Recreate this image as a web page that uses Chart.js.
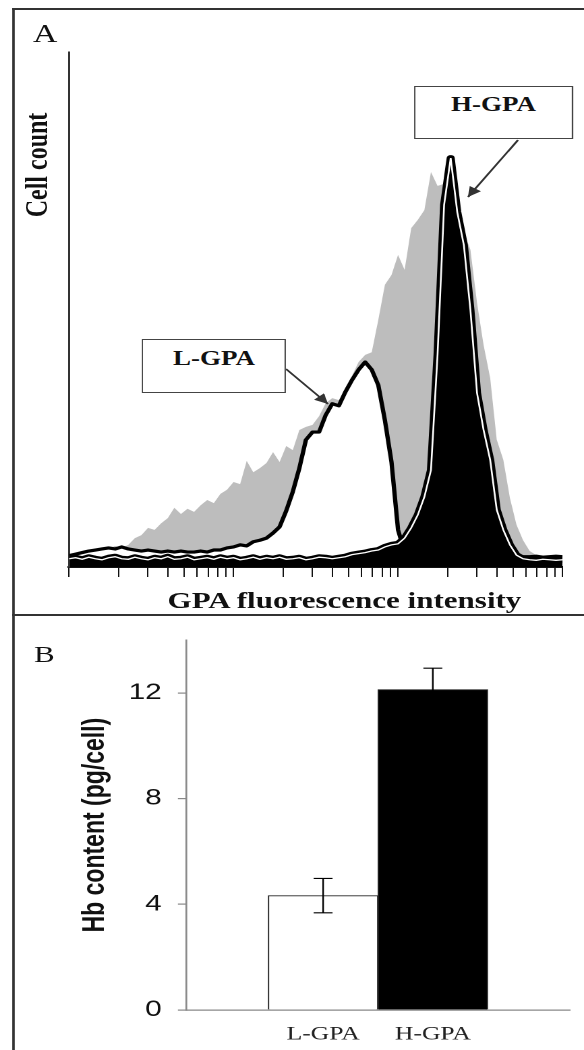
<!DOCTYPE html>
<html>
<head>
<meta charset="utf-8">
<script src="https://cdn.jsdelivr.net/npm/chart.js@4.4.1/dist/chart.umd.min.js"></script>
<style>
  html, body { margin: 0; padding: 0; background: #fff; }
  body { width: 584px; height: 1050px; overflow: hidden; position: relative; }
  /* the original figure is stretched sideways, so draw narrow and scale in x */
  #stage { position: absolute; left: 0; top: 0; width: 433px; height: 1050px;
           transform: scaleX(1.3487); transform-origin: 0 0; }
  .abs { position: absolute; white-space: nowrap; color: #111; }
  .serif { font-family: "Liberation Serif", "DejaVu Serif", serif; }
  .bold { font-weight: bold; }
  .box { box-sizing: border-box; border: 1.5px solid #444; background: #fff;
         text-align: center; font-size: 20px; line-height: 20px; }
</style>
</head>
<body>
<div id="stage">
  <div class="abs" style="left:0;top:0;width:433px;height:615px"><canvas id="histA"></canvas></div>
  <div class="abs" style="left:0;top:615px;width:433px;height:435px"><canvas id="barB"></canvas></div>

  <div class="abs" style="left:9px;top:8px;width:1.5px;height:1042px;background:#333"></div>
  <div class="abs" style="left:9px;top:8px;width:424px;height:2px;background:#333"></div>
  <div class="abs" style="left:9px;top:614px;width:424px;height:2px;background:#333"></div>

  <svg class="abs" style="left:0;top:0" width="433" height="615" viewBox="0 0 433 615">
    <defs>
      <marker id="head" viewBox="0 0 10 10" refX="10" refY="5" markerUnits="userSpaceOnUse"
              markerWidth="13" markerHeight="10" orient="auto">
        <path d="M0,0 L10,5 L0,10 z" fill="#333"></path>
      </marker>
    </defs>
    <line x1="384.1" y1="140" x2="347" y2="197" stroke="#333" stroke-width="1.6" marker-end="url(#head)"></line>
    <line x1="212.1" y1="369" x2="243.2" y2="404" stroke="#333" stroke-width="1.6" marker-end="url(#head)"></line>
  </svg>

  <div class="abs serif" style="left:24.5px;top:20.6px;font-size:25px;line-height:25px">A</div>
  <div class="abs serif bold" style="left:26.7px;top:165px;font-size:24px;line-height:24px;transform:translate(-50%,-50%) rotate(-90deg)">Cell count</div>
  <div class="abs serif bold" style="left:255.4px;top:589px;font-size:23px;line-height:23px;transform:translateX(-50%)">GPA fluorescence intensity</div>
  <div class="abs serif bold box" style="left:307px;top:86px;width:117.9px;height:53px;padding-top:7px">H-GPA</div>
  <div class="abs serif bold box" style="left:105.3px;top:339px;width:106.8px;height:54px;padding-top:8px">L-GPA</div>
  <div class="abs serif" style="left:25.2px;top:643px;font-size:23px;line-height:23px">B</div>
</div>

<script>
// panel A: GPA fluorescence histograms (log intensity channels)
const intensity = [1, 1.096, 1.202, 1.318, 1.445, 1.585, 1.738, 1.905, 2.089, 2.291,
  2.512, 2.754, 3.020, 3.311, 3.631, 3.981, 4.365, 4.786, 5.248, 5.754,
  6.310, 6.918, 7.586, 8.318, 9.120, 10, 10.96, 12.02, 13.18, 14.45,
  15.85, 17.38, 19.05, 20.89, 22.91, 25.12, 27.54, 30.20, 33.11, 36.31,
  39.81, 43.65, 47.86, 52.48, 57.54, 63.10, 69.18, 75.86, 83.18, 91.20,
  100, 109.6, 120.2, 131.8, 144.5, 158.5, 173.8, 190.5, 208.9, 229.1,
  251.2, 275.4, 302.0, 331.1, 363.1, 398.1, 436.5, 478.6, 524.8, 575.4,
  631.0, 691.8, 758.6, 831.8, 912.0, 1000];

const totalCells = [2.1, 2.3, 2.3, 2.7, 3.3, 3.7, 3.5, 4.1, 3.7, 4.3,
  5.6, 6.2, 7.6, 7.2, 8.5, 9.5, 11.5, 10.3, 11.3, 10.7,
  12.0, 13.0, 12.4, 14.2, 15.0, 16.5, 16.1, 20.6, 18.4, 19.2,
  20.2, 22.3, 20.4, 23.5, 22.7, 26.6, 27.2, 27.6, 29.3, 31.8,
  32.8, 32.4, 34.8, 37.1, 39.8, 41.2, 41.7, 48.0, 54.8, 56.7,
  60.6, 57.7, 65.8, 67.4, 69.3, 76.7, 74.0, 74.4, 73.6, 68.9,
  65.0, 61.6, 51.3, 43.1, 36.7, 24.7, 20.8, 13.4, 8.2, 5.2,
  3.1, 2.3, 2.1, 2.1, 1.9, 1.9];

const lowGpa = [2.2, 2.5, 2.8, 3.1, 3.3, 3.5, 3.7, 3.5, 3.9, 3.5,
  3.3, 3.1, 3.3, 3.1, 2.9, 3.1, 2.9, 3.1, 2.9, 2.9,
  3.1, 2.9, 3.3, 3.3, 3.7, 3.9, 4.3, 4.1, 4.9, 5.2,
  5.6, 6.6, 7.8, 10.9, 14.6, 19.2, 24.7, 26.2, 26.2, 29.5,
  31.7, 31.3, 34.0, 36.3, 38.3, 39.8, 38.3, 35.3, 28.5, 20.4,
  7.2, 2.9, 2.1, 2.0, 1.9, 2.1, 2.0, 1.9, 2.1, 2.0,
  2.0, 1.9, 2.1, 2.0, 1.9, 2.0, 2.1, 2.0, 1.9, 2.0,
  2.0, 2.1, 1.9, 2.0, 2.1, 2.0];

const highGpa = [1.6, 1.8, 1.5, 1.9, 1.6, 1.4, 1.8, 2.0, 1.6, 1.5,
  1.9, 1.6, 1.4, 1.8, 1.6, 2.0, 1.5, 1.6, 1.9, 1.4,
  1.6, 1.8, 1.5, 1.9, 1.6, 1.8, 1.4, 1.6, 1.9, 1.5,
  1.8, 1.6, 1.9, 1.5, 1.6, 1.8, 1.4, 1.6, 1.9, 1.8,
  1.6, 1.8, 2.0, 2.4, 2.6, 2.8, 3.1, 3.3, 3.9, 4.3,
  4.5, 5.6, 7.6, 10.1, 13.6, 18.8, 41.2, 70.3, 79.4, 68.9,
  62.5, 49.9, 33.8, 26.6, 20.8, 11.1, 7.2, 4.3, 2.3, 1.6,
  1.4, 1.3, 1.5, 1.4, 1.3, 1.4];

const xTickValues = [1, 2, 3, 4, 5, 6, 7, 8, 9, 10, 20, 30, 40, 50, 60, 70, 80, 90,
  100, 200, 300, 400, 500, 600, 700, 800, 900, 1000];

// panel B: haemoglobin content
const hbGroups = ['L-GPA', 'H-GPA'];
const hbContent = [4.33, 12.13];
const hbError = [0.65, 0.81];
const hbTicks = [0, 4, 8, 12];

Chart.defaults.animation = false;
Chart.defaults.plugins.legend.display = false;
Chart.defaults.plugins.tooltip.enabled = false;

const toPoints = ys => intensity.map((x, i) => ({x: x, y: ys[i]}));

new Chart(document.getElementById('histA'), {
    type: 'line',
    data: {
        datasets: [
            { label: 'All cells', data: toPoints(totalCells), borderWidth: 0, backgroundColor: '#bdbdbd',
              fill: 'origin', pointRadius: 0, order: 4 },
            { label: 'L-GPA', data: toPoints(lowGpa), borderColor: '#000', borderWidth: 3.2, backgroundColor: '#fff',
              fill: 'origin', pointRadius: 0, borderJoinStyle: 'round', order: 3 },
            { label: 'H-GPA outline', data: toPoints(highGpa), borderColor: '#000', borderWidth: 6,
              fill: false, pointRadius: 0, borderJoinStyle: 'round', order: 2 },
            { label: 'H-GPA', data: toPoints(highGpa), borderColor: '#fff', borderWidth: 1.3, backgroundColor: '#000',
              fill: 'origin', pointRadius: 0, order: 1 }
        ]
    },
    options: {
        responsive: true,
        maintainAspectRatio: false,
        devicePixelRatio: 2,
        layout: { padding: { top: 52, right: 15.9, bottom: 0, left: 0 } },
        scales: {
            x: {
                type: 'logarithmic', min: 1, max: 1000,
                afterBuildTicks: s => { s.ticks = xTickValues.map(v => ({value: v})); },
                afterFit: s => { s.height = 48; },
                ticks: { display: false },
                grid: { display: true, drawOnChartArea: false, drawTicks: true, tickLength: 10, color: '#111', lineWidth: 1 },
                border: { display: true, color: '#111', width: 2 }
            },
            y: {
                min: 0, max: 100,
                afterFit: s => { s.width = 51.2; },
                ticks: { display: false },
                grid: { display: false },
                border: { display: true, color: '#333', width: 1.5 }
            }
        }
    }
});

const errorBars = {
    id: 'errorBars',
    afterDatasetsDraw(chart) {
        const ctx = chart.ctx;
        const y = chart.scales.y;
        const meta = chart.getDatasetMeta(0);
        ctx.save();
        ctx.strokeStyle = '#000';
        ctx.lineWidth = 1.2;
        meta.data.forEach((bar, i) => {
            const top = y.getPixelForValue(hbContent[i] + hbError[i]);
            const bot = y.getPixelForValue(hbContent[i] - hbError[i]);
            ctx.beginPath();
            ctx.moveTo(bar.x, top); ctx.lineTo(bar.x, bot);
            ctx.moveTo(bar.x - 7, top); ctx.lineTo(bar.x + 7, top);
            ctx.moveTo(bar.x - 7, bot); ctx.lineTo(bar.x + 7, bot);
            ctx.stroke();
        });
        ctx.restore();
    }
};

new Chart(document.getElementById('barB'), {
    type: 'bar',
    data: {
        datasets: [{
            label: 'Hb content',
            data: hbContent.map((v, i) => ({x: i + 1.25, y: v})),
            backgroundColor: ['#fff', '#000'],
            borderColor: '#222',
            borderWidth: 1,
            barPercentage: 1,
            categoryPercentage: 1
        }]
    },
    options: {
        responsive: true,
        maintainAspectRatio: false,
        devicePixelRatio: 2,
        layout: { padding: { top: 23, right: 10.4, bottom: 0, left: 0 } },
        scales: {
            x: {
                type: 'linear', min: 0, max: 3.5, offset: false,
                afterBuildTicks: s => { s.ticks = hbGroups.map((g, i) => ({value: i + 1.25})); },
                afterFit: s => { s.height = 40; },
                ticks: {
                    callback: (v, i) => hbGroups[i],
                    font: { family: 'Liberation Serif', size: 19 },
                    color: '#222', padding: 13, autoSkip: false, maxRotation: 0
                },
                grid: { display: false, drawTicks: false },
                border: { display: true, color: '#888', width: 1.3 }
            },
            y: {
                min: 0, max: 14,
                afterBuildTicks: s => { s.ticks = hbTicks.map(v => ({value: v})); },
                afterFit: s => { s.width = 137.9; },
                ticks: { font: { family: 'Liberation Sans', size: 22 }, color: '#111', padding: 12 },
                grid: { display: true, drawOnChartArea: false, tickLength: 6, color: '#888', lineWidth: 1.2 },
                border: { display: true, color: '#888', width: 1.3 },
                title: {
                    display: true, text: 'Hb content (pg/cell)', color: '#111',
                    font: { family: 'Liberation Sans', size: 23, weight: 'bold' },
                    padding: { top: 57, bottom: 0 }
                }
            }
        }
    },
    plugins: [errorBars]
});
</script>
</body>
</html>
